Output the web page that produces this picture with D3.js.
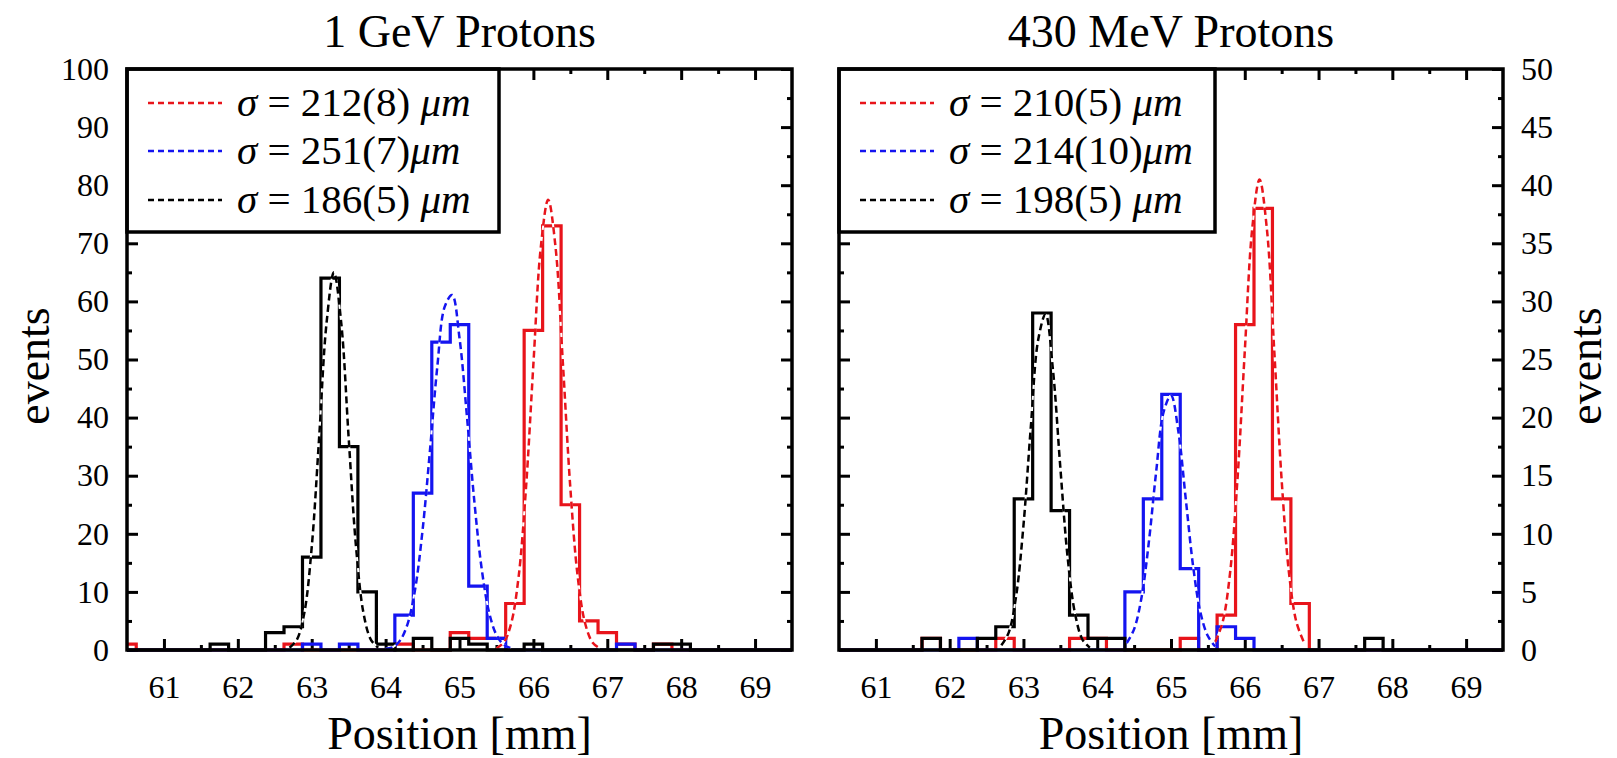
<!DOCTYPE html>
<html>
<head>
<meta charset="utf-8">
<script src="https://cdn.jsdelivr.net/npm/d3@7"></script>
<style>
body { margin: 0; background: #ffffff; }
text { font-family: "Liberation Serif", "Times New Roman", serif; fill: #000; }
</style>
</head>
<body>
<script>
//bin centres in mm, the same for every histogram
const binCenters = [60.5, 60.75, 61, 61.25, 61.5, 61.75, 62, 62.25, 62.5, 62.75,
                    63, 63.25, 63.5, 63.75, 64, 64.25, 64.5, 64.75, 65, 65.25,
                    65.5, 65.75, 66, 66.25, 66.5, 66.75, 67, 67.25, 67.5, 67.75,
                    68, 68.25, 68.5, 68.75, 69, 69.25, 69.5];

//1 GeV counts
const gevRed   = [1,0,0,0,0,0,0,0,0,1, 0,0,0,0,0,1,0,0,3,2, 2,8,55,73,25,5,3,1,0,1, 0,0,0,0,0,0,0];
const gevBlue  = [0,0,0,0,0,0,0,0,0,0, 1,0,1,0,0,6,27,53,56,11, 2,0,0,0,0,0,0,1,0,0, 0,0,0,0,0,0,0];
const gevBlack = [0,0,0,0,0,1,0,0,3,4, 16,64,35,10,1,0,2,0,2,1, 0,0,1,0,0,0,0,0,0,1, 1,0,0,0,0,0,0];

//430 MeV counts
const mevRed   = [0,0,0,0,0,1,0,0,0,1, 0,0,0,1,1,0,0,0,0,1, 0,3,28,38,13,4,0,0,0,0, 0,0,0,0,0,0,0];
const mevBlue  = [0,0,0,0,0,0,0,1,0,0, 0,0,0,0,0,0,5,13,22,7, 0,2,1,0,0,0,0,0,0,0, 0,0,0,0,0,0,0];
const mevBlack = [0,0,0,0,0,1,0,0,1,2, 13,29,12,3,1,1,0,0,0,0, 0,0,0,0,0,0,0,0,0,1, 0,0,0,0,0,0,0];

//dashed gaussian fits as [mm, events]
const gevRedFit = [[65.5,0.3],[65.6,1.3],[65.7,4.6],[65.8,12.6],[65.9,27.9],[66.0,49.2],[66.1,69.3],[66.2,77.5],
                   [66.3,69.3],[66.4,49.2],[66.5,27.9],[66.6,12.6],[66.7,4.6],[66.8,1.3],[66.9,0.3]];
const gevBlueFit = [[64.0,0.2],[64.1,0.5],[64.2,1.7],[64.3,4.6],[64.4,10.5],[64.5,20.6],[64.6,34.3],[64.7,48.8],[64.8,59.1],
                    [64.9,61.1],[65.0,53.7],[65.1,40.3],[65.2,25.7],[65.3,14.0],[65.4,6.5],[65.5,2.6],[65.6,0.9],[65.7,0.3]];
const gevBlackFit = [[62.7,0.4],[62.8,1.8],[62.9,6.4],[63.0,17.7],[63.1,36.5],[63.2,56.2],[63.3,65],
                     [63.4,56.2],[63.5,36.5],[63.6,17.7],[63.7,6.4],[63.8,1.8],[63.9,0.4]];
const mevRedFit = [[65.6,0.7],[65.7,2.4],[65.8,6.6],[65.9,14.6],[66.0,25.7],[66.1,36.2],[66.2,40.5],
                   [66.3,36.2],[66.4,25.7],[66.5,14.6],[66.6,6.6],[66.7,2.4],[66.8,0.7]];
const mevBlueFit = [[64.4,0.6],[64.5,1.8],[64.6,4.5],[64.7,9.3],[64.8,15.4],[64.9,20.5],[65.0,21.9],
                    [65.1,18.8],[65.2,13.0],[65.3,7.2],[65.4,3.2],[65.5,1.2],[65.6,0.3]];
const mevBlackFit = [[62.7,0.4],[62.8,1.5],[62.9,4.6],[63.0,10.7],[63.1,19.2],[63.2,26.7],[63.3,28.9],
                     [63.4,24.1],[63.5,15.7],[63.6,7.9],[63.7,3.1],[63.8,0.9],[63.9,0.2]];

//legend sigma values
const gevSigmas = ["212(8) ", "251(7)", "186(5) "];
const mevSigmas = ["210(5) ", "214(10)", "198(5) "];

//tick labels
const xTicks = [61, 62, 63, 64, 65, 66, 67, 68, 69];
const xMinor = [61.5, 62.5, 63.5, 64.5, 65.5, 66.5, 67.5, 68.5];
const gevTicks = [0, 10, 20, 30, 40, 50, 60, 70, 80, 90, 100];
const gevMinor = [5, 15, 25, 35, 45, 55, 65, 75, 85, 95];
const mevTicks = [0, 5, 10, 15, 20, 25, 30, 35, 40, 45, 50];
const mevMinor = [2.5, 7.5, 12.5, 17.5, 22.5, 27.5, 32.5, 37.5, 42.5, 47.5];

const colors = ["#e8141b", "#1414f0", "#000000"];
const serif = "'Liberation Serif', 'Times New Roman', serif";

const svg = d3.select("body").append("svg")
              .attr("width", 1617)
              .attr("height", 758);

const top0 = 69, bottom0 = 650;

//restyle one axis group: no domain line, serif labels, thick ticks
const styleAxis = (a) => {
    a.select(".domain").remove();
    a.attr("font-family", serif).attr("font-size", 32);
    a.selectAll("line").attr("stroke", "#000").attr("stroke-width", 3);
    a.selectAll("text").attr("fill", "#000");
};

const drawPanel = (p) => {
    const x = d3.scaleLinear().domain([60.5, 69.5]).range([p.left, p.right]);
    const y = d3.scaleLinear().domain([0, p.ymax]).range([bottom0, top0]);
    const g = svg.append("g");
    const noLab = () => "";

    //ticks on all four sides, pointing in
    g.append("g").attr("transform", `translate(0,${bottom0})`)
        .call(d3.axisBottom(x).tickValues(xTicks).tickSize(-11).tickPadding(25).tickFormat(d3.format("d")))
        .call(styleAxis);
    g.append("g").attr("transform", `translate(0,${bottom0})`)
        .call(d3.axisBottom(x).tickValues(xMinor).tickSize(-5).tickFormat(noLab))
        .call(styleAxis);
    g.append("g").attr("transform", `translate(0,${top0})`)
        .call(d3.axisTop(x).tickValues(xTicks).tickSize(-11).tickFormat(noLab))
        .call(styleAxis);
    g.append("g").attr("transform", `translate(0,${top0})`)
        .call(d3.axisTop(x).tickValues(xMinor).tickSize(-5).tickFormat(noLab))
        .call(styleAxis);

    g.append("g").attr("transform", `translate(${p.left},0)`)
        .call(d3.axisLeft(y).tickValues(p.ticks).tickSize(-11).tickPadding(18)
              .tickFormat(p.labelSide == "left" ? d3.format("d") : noLab))
        .call(styleAxis);
    g.append("g").attr("transform", `translate(${p.left},0)`)
        .call(d3.axisLeft(y).tickValues(p.minor).tickSize(-5).tickFormat(noLab))
        .call(styleAxis);
    g.append("g").attr("transform", `translate(${p.right},0)`)
        .call(d3.axisRight(y).tickValues(p.ticks).tickSize(-11).tickPadding(18)
              .tickFormat(p.labelSide == "right" ? d3.format("d") : noLab))
        .call(styleAxis);
    g.append("g").attr("transform", `translate(${p.right},0)`)
        .call(d3.axisRight(y).tickValues(p.minor).tickSize(-5).tickFormat(noLab))
        .call(styleAxis);

    //histograms as steps, red then blue then black
    const stepLine = d3.line()
                       .x((d, i) => x(binCenters[i]))
                       .y(d => y(d))
                       .curve(d3.curveStep);
    g.selectAll(".hist")
        .data(p.counts)
        .join("path")
        .attr("class", "hist")
        .attr("d", d => stepLine(d))
        .attr("fill", "none")
        .attr("stroke", (d, i) => colors[i])
        .attr("stroke-width", 3.2);

    //fits: white under-stroke, coloured dashes on top
    const fitLine = d3.line()
                      .x(d => x(d[0]))
                      .y(d => y(d[1]))
                      .curve(d3.curveCatmullRom);
    p.fits.forEach((f, i) => {
        g.append("path")
            .attr("d", fitLine(f))
            .attr("fill", "none")
            .attr("stroke", "#ffffff")
            .attr("stroke-width", 2);
        g.append("path")
            .attr("d", fitLine(f))
            .attr("fill", "none")
            .attr("stroke", colors[i])
            .attr("stroke-width", 2.5)
            .attr("stroke-dasharray", "7,4");
    });

    //legend box in the top-left corner
    g.append("rect")
        .attr("x", p.left)
        .attr("y", top0)
        .attr("width", p.legendW)
        .attr("height", 163)
        .attr("fill", "#ffffff")
        .attr("stroke", "#000")
        .attr("stroke-width", 3.5);

    const rows = [103, 151, 200];
    p.sigmas.forEach((s, i) => {
        g.append("line")
            .attr("x1", p.left + 21)
            .attr("x2", p.left + 95)
            .attr("y1", rows[i])
            .attr("y2", rows[i])
            .attr("stroke", colors[i])
            .attr("stroke-width", 2.5)
            .attr("stroke-dasharray", "6,4");
        const t = g.append("text")
            .attr("x", p.left + 110)
            .attr("y", rows[i] + 13)
            .style("font-size", "41px");
        t.append("tspan").style("font-style", "italic").text("σ");
        t.append("tspan").text(" = " + s);
        t.append("tspan").style("font-style", "italic").text("μm");
    });

    //frame
    g.append("rect")
        .attr("x", p.left)
        .attr("y", top0)
        .attr("width", p.right - p.left)
        .attr("height", bottom0 - top0)
        .attr("fill", "none")
        .attr("stroke", "#000")
        .attr("stroke-width", 3.5);

    const mid = (p.left + p.right) / 2;
    g.append("text")
        .text(p.title)
        .attr("x", mid)
        .attr("y", 47)
        .attr("text-anchor", "middle")
        .style("font-size", "46px");
    g.append("text")
        .text("Position [mm]")
        .attr("x", mid)
        .attr("y", 749)
        .attr("text-anchor", "middle")
        .style("font-size", "46px");
    g.append("text")
        .text("events")
        .attr("text-anchor", "middle")
        .attr("transform", `translate(${p.eventsX},366) rotate(-90)`)
        .style("font-size", "46px");
};

drawPanel({
    left: 127, right: 792, ymax: 100,
    ticks: gevTicks, minor: gevMinor, labelSide: "left",
    counts: [gevRed, gevBlue, gevBlack],
    fits: [gevRedFit, gevBlueFit, gevBlackFit],
    sigmas: gevSigmas, legendW: 372,
    title: "1 GeV Protons", eventsX: 49
});

drawPanel({
    left: 839, right: 1503, ymax: 50,
    ticks: mevTicks, minor: mevMinor, labelSide: "right",
    counts: [mevRed, mevBlue, mevBlack],
    fits: [mevRedFit, mevBlueFit, mevBlackFit],
    sigmas: mevSigmas, legendW: 376,
    title: "430 MeV Protons", eventsX: 1601
});
</script>
</body>
</html>
